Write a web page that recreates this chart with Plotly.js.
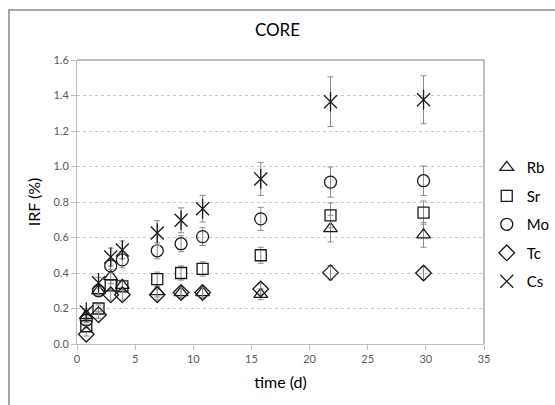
<!DOCTYPE html>
<html>
<head>
<meta charset="utf-8">
<script src="https://cdn.plot.ly/plotly-3.0.1.min.js"></script>
<style>
  html, body { margin: 0; padding: 0; background: #fff; }
  #wrap { position: relative; width: 555px; height: 405px; overflow: hidden; }
  #chart { position: absolute; left: 0; top: 0; width: 555px; height: 405px; }
  #frame { position: absolute; left: 8px; top: 9px; width: 560px; height: 420px; border: 2px solid #a6a6a6; pointer-events: none; }
</style>
</head>
<body>
<div id="wrap">
  <div id="chart"></div>
  <div id="frame"></div>
</div>
<script>
// time (d)
const time = [0.8, 1.85, 2.9, 3.9, 6.9, 8.95, 10.8, 15.8, 21.8, 29.8];

const rb = [0.16, 0.30, 0.38, 0.33, 0.295, 0.29, 0.29, 0.28, 0.65, 0.615];
const sr = [0.10, 0.20, 0.33, 0.325, 0.365, 0.40, 0.423, 0.50, 0.725, 0.74];
const mo = [0.135, 0.30, 0.44, 0.474, 0.525, 0.565, 0.605, 0.705, 0.912, 0.92];
const tc = [0.055, 0.165, 0.277, 0.277, 0.278, 0.29, 0.29, 0.31, 0.402, 0.40];
const cs = [0.18, 0.345, 0.49, 0.53, 0.625, 0.697, 0.762, 0.93, 1.365, 1.376];

const rbErr = [0.02, 0.03, 0.04, 0.03, 0.03, 0.03, 0.03, 0.03, 0.075, 0.07];
const srErr = [0.01, 0.02, 0.03, 0.03, 0.04, 0.04, 0.04, 0.045, 0.07, 0.065];
const moErr = [0.015, 0.03, 0.04, 0.045, 0.045, 0.045, 0.05, 0.065, 0.085, 0.083];
const tcErr = [0.01, 0.02, 0.03, 0.03, 0.03, 0.03, 0.03, 0.03, 0.04, 0.035];
const csErr = [0.02, 0.03, 0.05, 0.05, 0.07, 0.07, 0.075, 0.093, 0.14, 0.135];

const seriesNames = ['Rb', 'Sr', 'Mo', 'Tc', 'Cs'];

const FONT = 'Lato, "Open Sans", sans-serif';
const errStyle = (arr) => ({ type: 'data', array: arr, visible: true, color: '#8c8c8c', thickness: 1, width: 3 });

function tr(name, y, err, symbol, size, show, group) {
  return {
    type: 'scatter', mode: 'markers', name: name, x: time, y: y,
    legendgroup: group, showlegend: show,
    error_y: err ? errStyle(err) : undefined,
    marker: { symbol: symbol, size: size, color: '#1a1a1a', line: { color: '#1a1a1a', width: 1.3 } }
  };
}

const data = [
  tr(seriesNames[0], rb, rbErr, 'triangle-up-open', 12, true, 'g1'),
  tr(seriesNames[1], sr, srErr, 'square-open', 11, true, 'g2'),
  tr(seriesNames[2], mo, moErr, 'circle-open', 12, true, 'g3'),
  tr(seriesNames[3], tc, tcErr, 'diamond-open', 12, true, 'g4'),
  tr(seriesNames[4], cs, csErr, 'x-thin-open', 13, true, 'g5'),
  tr(seriesNames[4], cs, null, 'line-ns-open', 14, false, 'g5')
];

const layout = {
  width: 555, height: 405,
  margin: { l: 77, r: 71, t: 60, b: 61 },
  paper_bgcolor: '#fff', plot_bgcolor: '#fff',
  font: { family: FONT, color: '#000' },
  showlegend: true,
  title: { text: 'CORE', x: 0.5, xanchor: 'center', y: 0.925, yanchor: 'middle', font: { family: FONT, size: 17, color: '#000' } },
  xaxis: {
    range: [0, 35], dtick: 5, tick0: 0,
    showgrid: false, zeroline: false,
    showline: true, linecolor: '#bfbfbf', linewidth: 1,
    ticks: 'outside', ticklen: 5, tickcolor: '#bfbfbf',
    tickfont: { family: FONT, size: 11, color: '#595959' },
    title: { text: 'time (d)', font: { family: FONT, size: 16, color: '#000' }, standoff: 12 }
  },
  yaxis: {
    range: [0, 1.6], dtick: 0.2, tick0: 0, tickformat: '.1f',
    showgrid: true, gridcolor: '#c8c8c8', griddash: 'dot', gridwidth: 1,
    zeroline: false,
    showline: true, linecolor: '#bfbfbf', linewidth: 1,
    ticks: 'outside', ticklen: 5, tickcolor: '#bfbfbf',
    tickfont: { family: FONT, size: 11, color: '#595959' },
    title: { text: 'IRF (%)', font: { family: FONT, size: 16, color: '#000' }, standoff: 8 }
  },
  legend: {
    xref: 'container', yref: 'container',
    x: 0.877, xanchor: 'left', y: 0.627, yanchor: 'top',
    font: { family: FONT, size: 15, color: '#000' },
    traceorder: 'grouped', tracegroupgap: 6,
    itemwidth: 30, bgcolor: 'rgba(0,0,0,0)'
  },
  shapes: [
    { type: 'line', xref: 'paper', yref: 'paper', x0: 0, x1: 1, y0: 1, y1: 1, line: { color: '#7f7f7f', width: 1 } },
    { type: 'line', xref: 'paper', yref: 'paper', x0: 1, x1: 1, y0: 0, y1: 1, line: { color: '#7f7f7f', width: 1 } }
  ]
};

Plotly.newPlot('chart', data, layout, { displayModeBar: false, staticPlot: true });
</script>
</body>
</html>
